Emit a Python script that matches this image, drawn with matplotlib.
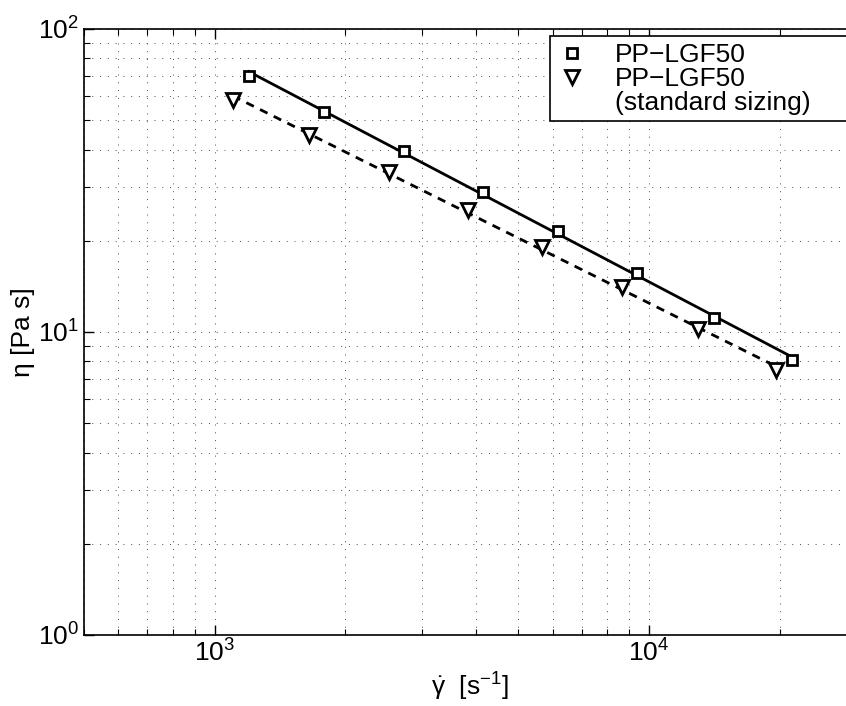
import matplotlib
matplotlib.use("Agg")
import matplotlib.pyplot as plt
import numpy as np
from matplotlib.lines import Line2D

plt.rcParams["font.family"] = ["Liberation Sans", "DejaVu Sans"]
plt.rcParams["mathtext.fontset"] = "custom"
plt.rcParams["mathtext.rm"] = "Liberation Sans"
plt.rcParams["mathtext.it"] = "Liberation Sans"
plt.rcParams["mathtext.bf"] = "Liberation Sans:bold"

# Daten
rate_std = [1197, 1790, 2734, 4153, 6177, 9385, 14107, 21313]
eta_std = [70.0, 53.2, 39.6, 29.0, 21.5, 15.7, 11.1, 8.08]

rate_sz = [1100, 1653, 2525, 3836, 5675, 8670, 12963, 19588]
eta_sz = [58.3, 44.7, 33.7, 25.3, 19.1, 14.1, 10.2, 7.49]

labels = ["PP\u2212LGF50", "PP\u2212LGF50", "(standard sizing)"]

fs = 19

fig = plt.figure(figsize=(8.46, 7.06), dpi=100)
ax = fig.add_axes([84 / 846, 71 / 706, 772 / 846, 606 / 706])


def potenzfit(x, y):
    x = np.array(x, dtype=float)
    y = np.array(y, dtype=float)
    k, d = np.polyfit(np.log10(x), np.log10(y), 1)
    xf = np.array([x.min(), x.max()])
    return xf, 10 ** (k * np.log10(xf) + d)


xf, yf = potenzfit(rate_std, eta_std)
ax.plot(xf, yf, "k-", lw=2.0)
xf, yf = potenzfit(rate_sz, eta_sz)
ax.plot(xf, yf, "k--", lw=2.0, dashes=(3, 2.5))

h1, = ax.plot(rate_std, eta_std, "ks", mfc="white", mec="black", mew=2.0, ms=6.5, ls="none")
h2, = ax.plot(rate_sz, eta_sz, "kv", mfc="white", mec="black", mew=2.0, ms=10, ls="none")

ax.set_xscale("log")
ax.set_yscale("log")
ax.set_xlim(500, 30000)
ax.set_ylim(1, 100)

ax.grid(True, which="both", color="0.3", lw=0.7, linestyle=(0, (1, 7)))
ax.tick_params(which="both", direction="in", labelsize=fs, top=True, right=True)
ax.tick_params(which="major", length=7, width=1)
ax.tick_params(which="minor", length=4, width=0.8)
for s in ax.spines.values():
    s.set_linewidth(1.2)

ax.set_xlabel(r"$\dot{\gamma}$  [s$^{-1}$]", fontsize=fs, labelpad=3)
ax.set_ylabel("\u03b7 [Pa s]", fontsize=fs, labelpad=2)

leer = Line2D([], [], ls="none")
leg = ax.legend([h1, h2, leer], labels, loc="upper left",
                bbox_to_anchor=(0.6036, 0.5, 0.3964, 0.488), mode="expand",
                fontsize=fs, frameon=True, fancybox=False, framealpha=1, edgecolor="black",
                handlelength=1.2, handletextpad=1.0, labelspacing=0.0, borderpad=0.25,
                borderaxespad=0)
leg.get_frame().set_linewidth(1.2)

fig.savefig("out.png", dpi=100)
